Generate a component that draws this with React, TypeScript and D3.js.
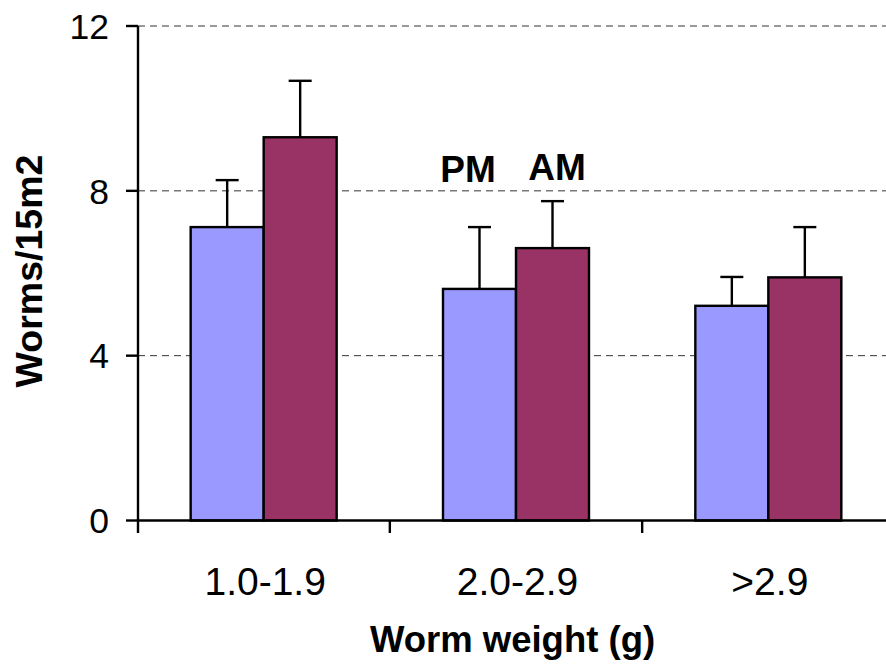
import React from "react";
import * as d3 from "d3";

const categories = ["1.0-1.9", "2.0-2.9", ">2.9"];
const seriesNames = ["PM", "AM"];
const pmValues = [7.12, 5.62, 5.21];
const amValues = [9.3, 6.61, 5.9];
const pmErrors = [1.14, 1.5, 0.7];
const amErrors = [1.37, 1.14, 1.22];
const yTicks = [0, 4, 8, 12];
const colors = ["#9999FF", "#993366"];

const W = 886;
const H = 664;
const FONT = "'Liberation Sans', Arial, Helvetica, sans-serif";

export default function App() {
  const x0 = d3
    .scaleBand<string>()
    .domain(categories)
    .range([137.5, 894.5])
    .paddingInner(0.4214)
    .paddingOuter(0.2107);
  const x1 = d3.scaleBand<string>().domain(seriesNames).range([0, x0.bandwidth()]);
  const y = d3.scaleLinear().domain([0, 12]).range([520.5, 26]);

  const series = [
    { name: "PM", values: pmValues, errors: pmErrors, color: colors[0] },
    { name: "AM", values: amValues, errors: amErrors, color: colors[1] },
  ];

  const axisX = 138;
  const baseY = y(0);
  const boundaries = categories.map((c) => (x0(c) as number) - x0.step() * 0.2107);
  boundaries.push((x0(categories[categories.length - 1]) as number) + x0.bandwidth() + x0.step() * 0.2107);

  const g2 = (x0(categories[1]) as number);
  const SW = 2.4;

  return (
    <svg width={W} height={H} style={{ position: "absolute", left: 0, top: 0, background: "#fff" }}>
      <rect x={0} y={0} width={W} height={H} fill="#fff" />
      {/* gridlines */}
      {yTicks.filter((t) => t > 0).map((t) => (
        <line key={t} x1={axisX} x2={W} y1={y(t)} y2={y(t)} stroke="#333" strokeWidth={1} strokeDasharray="7,5" />
      ))}
      {/* bars */}
      {series.map((s) =>
        categories.map((c, i) => {
          const bx = (x0(c) as number) + (x1(s.name) as number);
          return (
            <rect
              key={s.name + c}
              x={bx}
              y={y(s.values[i])}
              width={x1.bandwidth()}
              height={baseY - y(s.values[i])}
              fill={s.color}
              stroke="#000"
              strokeWidth={SW}
            />
          );
        })
      )}
      {/* error bars */}
      {series.map((s) =>
        categories.map((c, i) => {
          const cx = (x0(c) as number) + (x1(s.name) as number) + x1.bandwidth() / 2;
          const top = y(s.values[i] + s.errors[i]);
          return (
            <g key={"e" + s.name + c} stroke="#000" strokeWidth={SW}>
              <line x1={cx} x2={cx} y1={y(s.values[i])} y2={top} />
              <line x1={cx - 11.5} x2={cx + 11.5} y1={top} y2={top} />
            </g>
          );
        })
      )}
      {/* y axis */}
      <line x1={axisX} x2={axisX} y1={y(12)} y2={baseY + 12.5} stroke="#000" strokeWidth={SW} />
      {yTicks.map((t) => (
        <g key={"yt" + t}>
          <line x1={axisX - 12} x2={axisX} y1={y(t)} y2={y(t)} stroke="#000" strokeWidth={SW} />
          <text x={109} y={y(t)} dy="0.36em" textAnchor="end" fontFamily={FONT} fontSize={35.5} fill="#000">
            {t}
          </text>
        </g>
      ))}
      {/* x axis */}
      <line x1={axisX} x2={W} y1={baseY} y2={baseY} stroke="#000" strokeWidth={SW} />
      {boundaries.slice(1).map((b, i) => (
        <line key={"xt" + i} x1={b} x2={b} y1={baseY} y2={baseY + 12.5} stroke="#000" strokeWidth={SW} />
      ))}
      {categories.map((c) => (
        <text
          key={"xl" + c}
          x={(x0(c) as number) + x0.bandwidth() / 2 + 1.5}
          y={595}
          textAnchor="middle"
          fontFamily={FONT}
          fontSize={39}
          fill="#000"
        >
          {c}
        </text>
      ))}
      {/* titles */}
      <text x={512.5} y={652} textAnchor="middle" fontFamily={FONT} fontSize={36.5} fontWeight="bold" fill="#000">
        Worm weight (g)
      </text>
      <text
        transform={`translate(42,271) rotate(-90)`}
        textAnchor="middle"
        fontFamily={FONT}
        fontSize={37.5}
        fontWeight="bold"
        fill="#000"
      >
        Worms/15m2
      </text>
      {/* series labels */}
      <text x={g2 + 25} y={181.5} textAnchor="middle" fontFamily={FONT} fontSize={37} fontWeight="bold" fill="#000">
        {seriesNames[0]}
      </text>
      <text x={g2 + 114} y={180} textAnchor="middle" fontFamily={FONT} fontSize={37} fontWeight="bold" fill="#000">
        {seriesNames[1]}
      </text>
    </svg>
  );
}
